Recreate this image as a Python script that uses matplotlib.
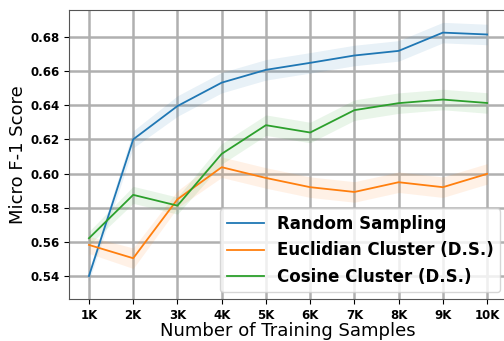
import numpy as np
import matplotlib.pyplot as plt

sizes = ["1K", "2K", "3K", "4K", "5K", "6K", "7K", "8K", "9K", "10K"]

random_f1 = [0.540, 0.620, 0.6395, 0.6532, 0.6607, 0.6648, 0.6691, 0.6718, 0.6825, 0.6814]
random_sd = [0.003, 0.005, 0.006, 0.006, 0.006, 0.006, 0.006, 0.006, 0.006, 0.006]

euclid_f1 = [0.5582, 0.5504, 0.5849, 0.6037, 0.5974, 0.5920, 0.5892, 0.5949, 0.5920, 0.5998]
euclid_sd = [0.005, 0.006, 0.005, 0.006, 0.006, 0.006, 0.006, 0.006, 0.006, 0.006]

cosine_f1 = [0.5621, 0.5875, 0.5812, 0.6115, 0.6283, 0.6240, 0.6371, 0.6412, 0.6433, 0.6413]
cosine_sd = [0.004, 0.005, 0.005, 0.006, 0.006, 0.006, 0.006, 0.006, 0.006, 0.006]

x = np.arange(1, len(sizes) + 1)

fig = plt.figure(figsize=(5.04, 3.41), dpi=100)
ax = fig.add_axes([0.137, 0.123, 0.869, 0.848])

series = [
    ("Random Sampling", random_f1, random_sd, "tab:blue"),
    ("Euclidian Cluster (D.S.)", euclid_f1, euclid_sd, "tab:orange"),
    ("Cosine Cluster (D.S.)", cosine_f1, cosine_sd, "tab:green"),
]
for name, m, s, c in series:
    m = np.array(m)
    s = np.array(s)
    ax.plot(x, m, color=c, lw=1.3, label=name)
    ax.fill_between(x, m - s, m + s, color=c, alpha=0.1, lw=0)

ax.grid(True, color="#b0b0b0", lw=1.8)
ax.set_axisbelow(True)
ax.set_xticks(x)
ax.set_xticklabels(sizes)
ax.set_yticks(np.arange(0.54, 0.681, 0.02))
ax.set_ylim(0.5265, 0.6958)
ax.set_xlim(0.55, 10.45)
for lab in ax.get_xticklabels() + ax.get_yticklabels():
    lab.set_fontweight("bold")
    lab.set_fontsize(8.5)
for sp in ax.spines.values():
    sp.set_color("#555555")

ax.set_xlabel("Number of Training Samples", fontsize=13, labelpad=0)
ax.set_ylabel("Micro F-1 Score", fontsize=13, labelpad=2)

ax.legend(loc="lower right", prop={"weight": "bold", "size": 12},
          borderaxespad=0.4, handlelength=2.2)

fig.savefig("out.png", dpi=100)
